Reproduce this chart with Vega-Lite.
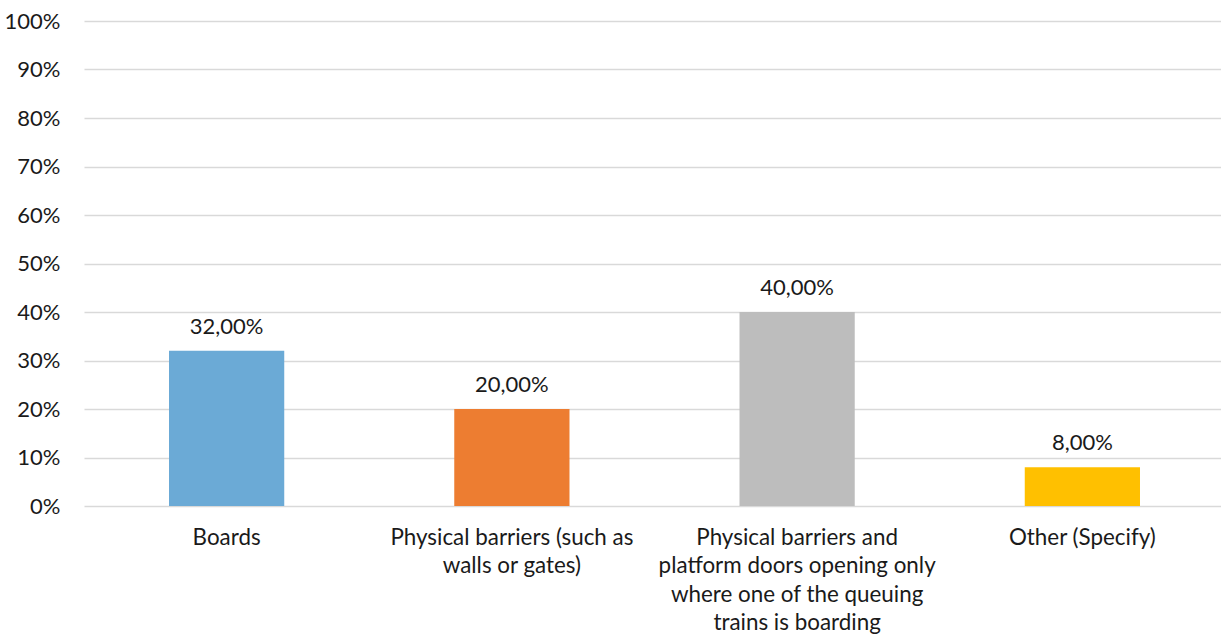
{
  "$schema": "https://vega.github.io/schema/vega-lite/v6.json",
  "width": 1141,
  "height": 485,
  "autosize": {"type": "none"},
  "padding": {"left": 84, "top": 21, "right": 0, "bottom": 129},
  "background": "white",
  "config": {
    "view": {"stroke": null},
    "font": "Lato",
    "locale": {"number": {"decimal": ",", "thousands": ".", "grouping": [3], "currency": ["", " €"]}}
  },
  "data": {
    "values": [
      {"category": "Boards", "share": 0.32},
      {"category": "Physical barriers (such as walls or gates)", "share": 0.20},
      {"category": "Physical barriers and platform doors opening only where one of the queuing trains is boarding", "share": 0.40},
      {"category": "Other (Specify)", "share": 0.08}
    ]
  },
  "encoding": {
    "x": {
      "field": "category",
      "type": "nominal",
      "sort": null,
      "scale": {"paddingInner": 0.596, "paddingOuter": 0.298},
      "axis": {
        "title": null,
        "labelAngle": 0,
        "domain": false,
        "ticks": false,
        "labelFont": "Lato",
        "labelFontSize": 22.4,
        "labelColor": "#1a1a1a",
        "labelLimit": 400,
        "labelPadding": 20,
        "labelLineHeight": 28.5,
        "labelOverlap": false,
        "labelExpr": "datum.value == 'Physical barriers (such as walls or gates)' ? ['Physical barriers (such as', 'walls or gates)'] : datum.value == 'Physical barriers and platform doors opening only where one of the queuing trains is boarding' ? ['Physical barriers and', 'platform doors opening only', 'where one of the queuing', 'trains is boarding'] : datum.value"
      }
    },
    "y": {
      "field": "share",
      "type": "quantitative",
      "scale": {"domain": [0, 1]},
      "axis": {
        "title": null,
        "format": ".0%",
        "values": [0, 0.1, 0.2, 0.3, 0.4, 0.5, 0.6, 0.7, 0.8, 0.9, 1],
        "domain": false,
        "ticks": false,
        "grid": true,
        "gridColor": "#d9d9d9",
        "gridWidth": 1.3,
        "labelFont": "Lato",
        "labelFontSize": 22,
        "labelColor": "#1a1a1a",
        "labelPadding": 24,
        "labelOverlap": false
      }
    }
  },
  "layer": [
    {
      "mark": {"type": "bar"},
      "encoding": {
        "color": {
          "field": "category",
          "type": "nominal",
          "sort": null,
          "legend": null,
          "scale": {"range": ["#6BAAD6", "#ED7D31", "#BDBDBD", "#FFC000"]}
        }
      }
    },
    {
      "mark": {"type": "text", "baseline": "bottom", "dy": -12, "font": "Lato", "fontSize": 22, "color": "#1a1a1a"},
      "encoding": {
        "text": {"field": "share", "type": "quantitative", "format": ".2%"}
      }
    }
  ]
}
